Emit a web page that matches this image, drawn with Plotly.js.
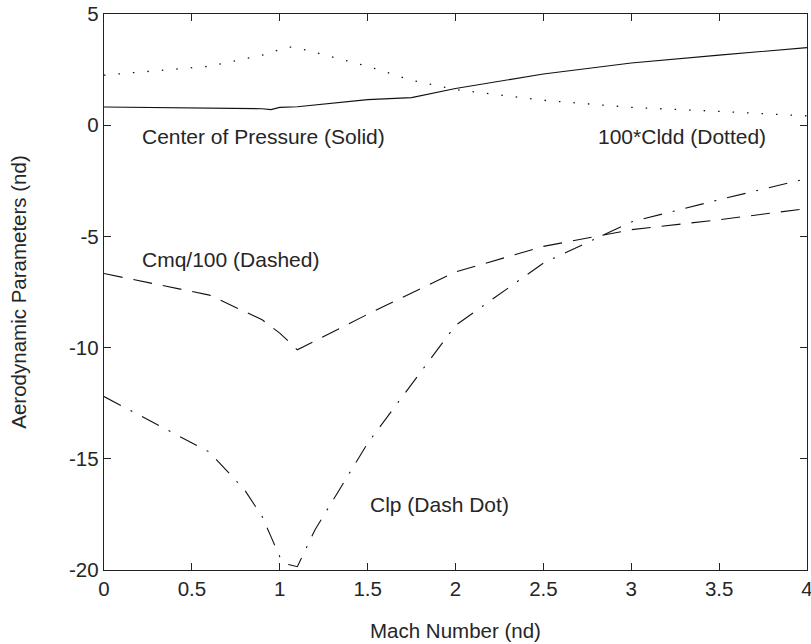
<!DOCTYPE html>
<html>
<head>
<meta charset="utf-8">
<script src="https://cdn.plot.ly/plotly-3.0.1.min.js"></script>
<style>html,body{margin:0;padding:0;background:#fff;}#chart{width:811px;height:644px;}</style>
</head>
<body>
<div id="chart"></div>
<script>
// Center of Pressure (solid)
const cpMach = [0, 0.6, 0.9, 0.95, 1.0, 1.1, 1.5, 1.75, 2.0, 2.5, 3.0, 3.5, 4.0];
const cpVals = [0.82, 0.76, 0.74, 0.70, 0.80, 0.83, 1.15, 1.24, 1.65, 2.3, 2.8, 3.15, 3.49];

// 100*Cldd (dotted)
const clddMach = [0, 0.6, 0.9, 1.05, 1.1, 1.5, 1.75, 2.0, 2.5, 3.0, 3.5, 4.0];
const clddVals = [2.25, 2.65, 3.15, 3.52, 3.48, 2.65, 2.02, 1.6, 1.12, 0.8, 0.62, 0.42];

// Cmq/100 (dashed)
const cmqMach = [0, 0.6, 0.9, 1.0, 1.05, 1.1, 1.5, 2.0, 2.5, 3.0, 3.5, 4.0];
const cmqVals = [-6.67, -7.64, -8.75, -9.35, -9.72, -10.1, -8.5, -6.6, -5.45, -4.7, -4.25, -3.75];

// Clp (dash dot)
const clpMach = [0, 0.6, 0.8, 0.9, 0.95, 1.0, 1.05, 1.1, 1.2, 1.5, 2.0, 2.5, 3.0, 3.5, 4.0];
const clpVals = [-12.2, -14.7, -16.4, -17.6, -18.5, -19.4, -19.75, -19.85, -18.2, -14.3, -9.0, -6.2, -4.35, -3.35, -2.4];

const xTicks = [0, 0.5, 1, 1.5, 2, 2.5, 3, 3.5, 4];
const xTickText = ['0', '0.5', '1', '1.5', '2', '2.5', '3', '3.5', '4'];
const yTicks = [-20, -15, -10, -5, 0, 5];
const yTickText = ['-20', '-15', '-10', '-5', '0', '5'];

const labels = ['Center of Pressure (Solid)', '100*Cldd (Dotted)', 'Cmq/100 (Dashed)', 'Clp (Dash Dot)'];
const labelX = [0.205, 2.80, 0.205, 1.504];
const labelY = [-0.53, -0.53, -6.04, -17.05];

const lineCol = '#111';
const traces = [
  {x: cpMach, y: cpVals, mode: 'lines', line: {color: lineCol, width: 1.1, dash: 'solid'}},
  {x: clddMach, y: clddVals, mode: 'lines', line: {color: lineCol, width: 1.3, dash: '1.5px,13px'}},
  {x: cmqMach, y: cmqVals, mode: 'lines', line: {color: lineCol, width: 1.1, dash: '19px,11px'}},
  {x: clpMach, y: clpVals, mode: 'lines', line: {color: lineCol, width: 1.1, dash: '19px,11px,2px,11px'}}
];

const fam = 'Liberation Sans, Arial, sans-serif';
const font = {family: fam, size: 20.5, color: '#262626'};
const annFont = {family: fam, size: 21, color: '#262626'};

const layout = {
  width: 811, height: 644,
  margin: {l: 104, r: 4, t: 13.5, b: 74},
  showlegend: false,
  paper_bgcolor: '#fff', plot_bgcolor: '#fff',
  font: font,
  xaxis: {
    range: [0, 4], tickvals: xTicks, ticktext: xTickText,
    ticks: 'inside', ticklen: 7, tickcolor: '#222', tickwidth: 1,
    showline: true, linecolor: '#222', linewidth: 1.2, mirror: 'ticks',
    showgrid: false, zeroline: false, ticklabeloverflow: 'allow',
    tickfont: font,
    title: {text: 'Mach Number (nd)', font: font, standoff: 24}
  },
  yaxis: {
    range: [-20, 5], tickvals: yTicks, ticktext: yTickText,
    ticks: 'inside', ticklen: 7, tickcolor: '#222', tickwidth: 1,
    showline: true, linecolor: '#222', linewidth: 1.2, mirror: 'ticks',
    showgrid: false, zeroline: false, ticklabeloverflow: 'allow',
    tickfont: font,
    title: {text: 'Aerodynamic Parameters (nd)', font: font, standoff: 36}
  },
  annotations: labels.map((t, i) => ({
    x: labelX[i], y: labelY[i], xref: 'x', yref: 'y', text: t,
    showarrow: false, xanchor: 'left', yanchor: 'middle', font: annFont
  }))
};

Plotly.newPlot('chart', traces, layout, {staticPlot: true, displayModeBar: false});
</script>
</body>
</html>
